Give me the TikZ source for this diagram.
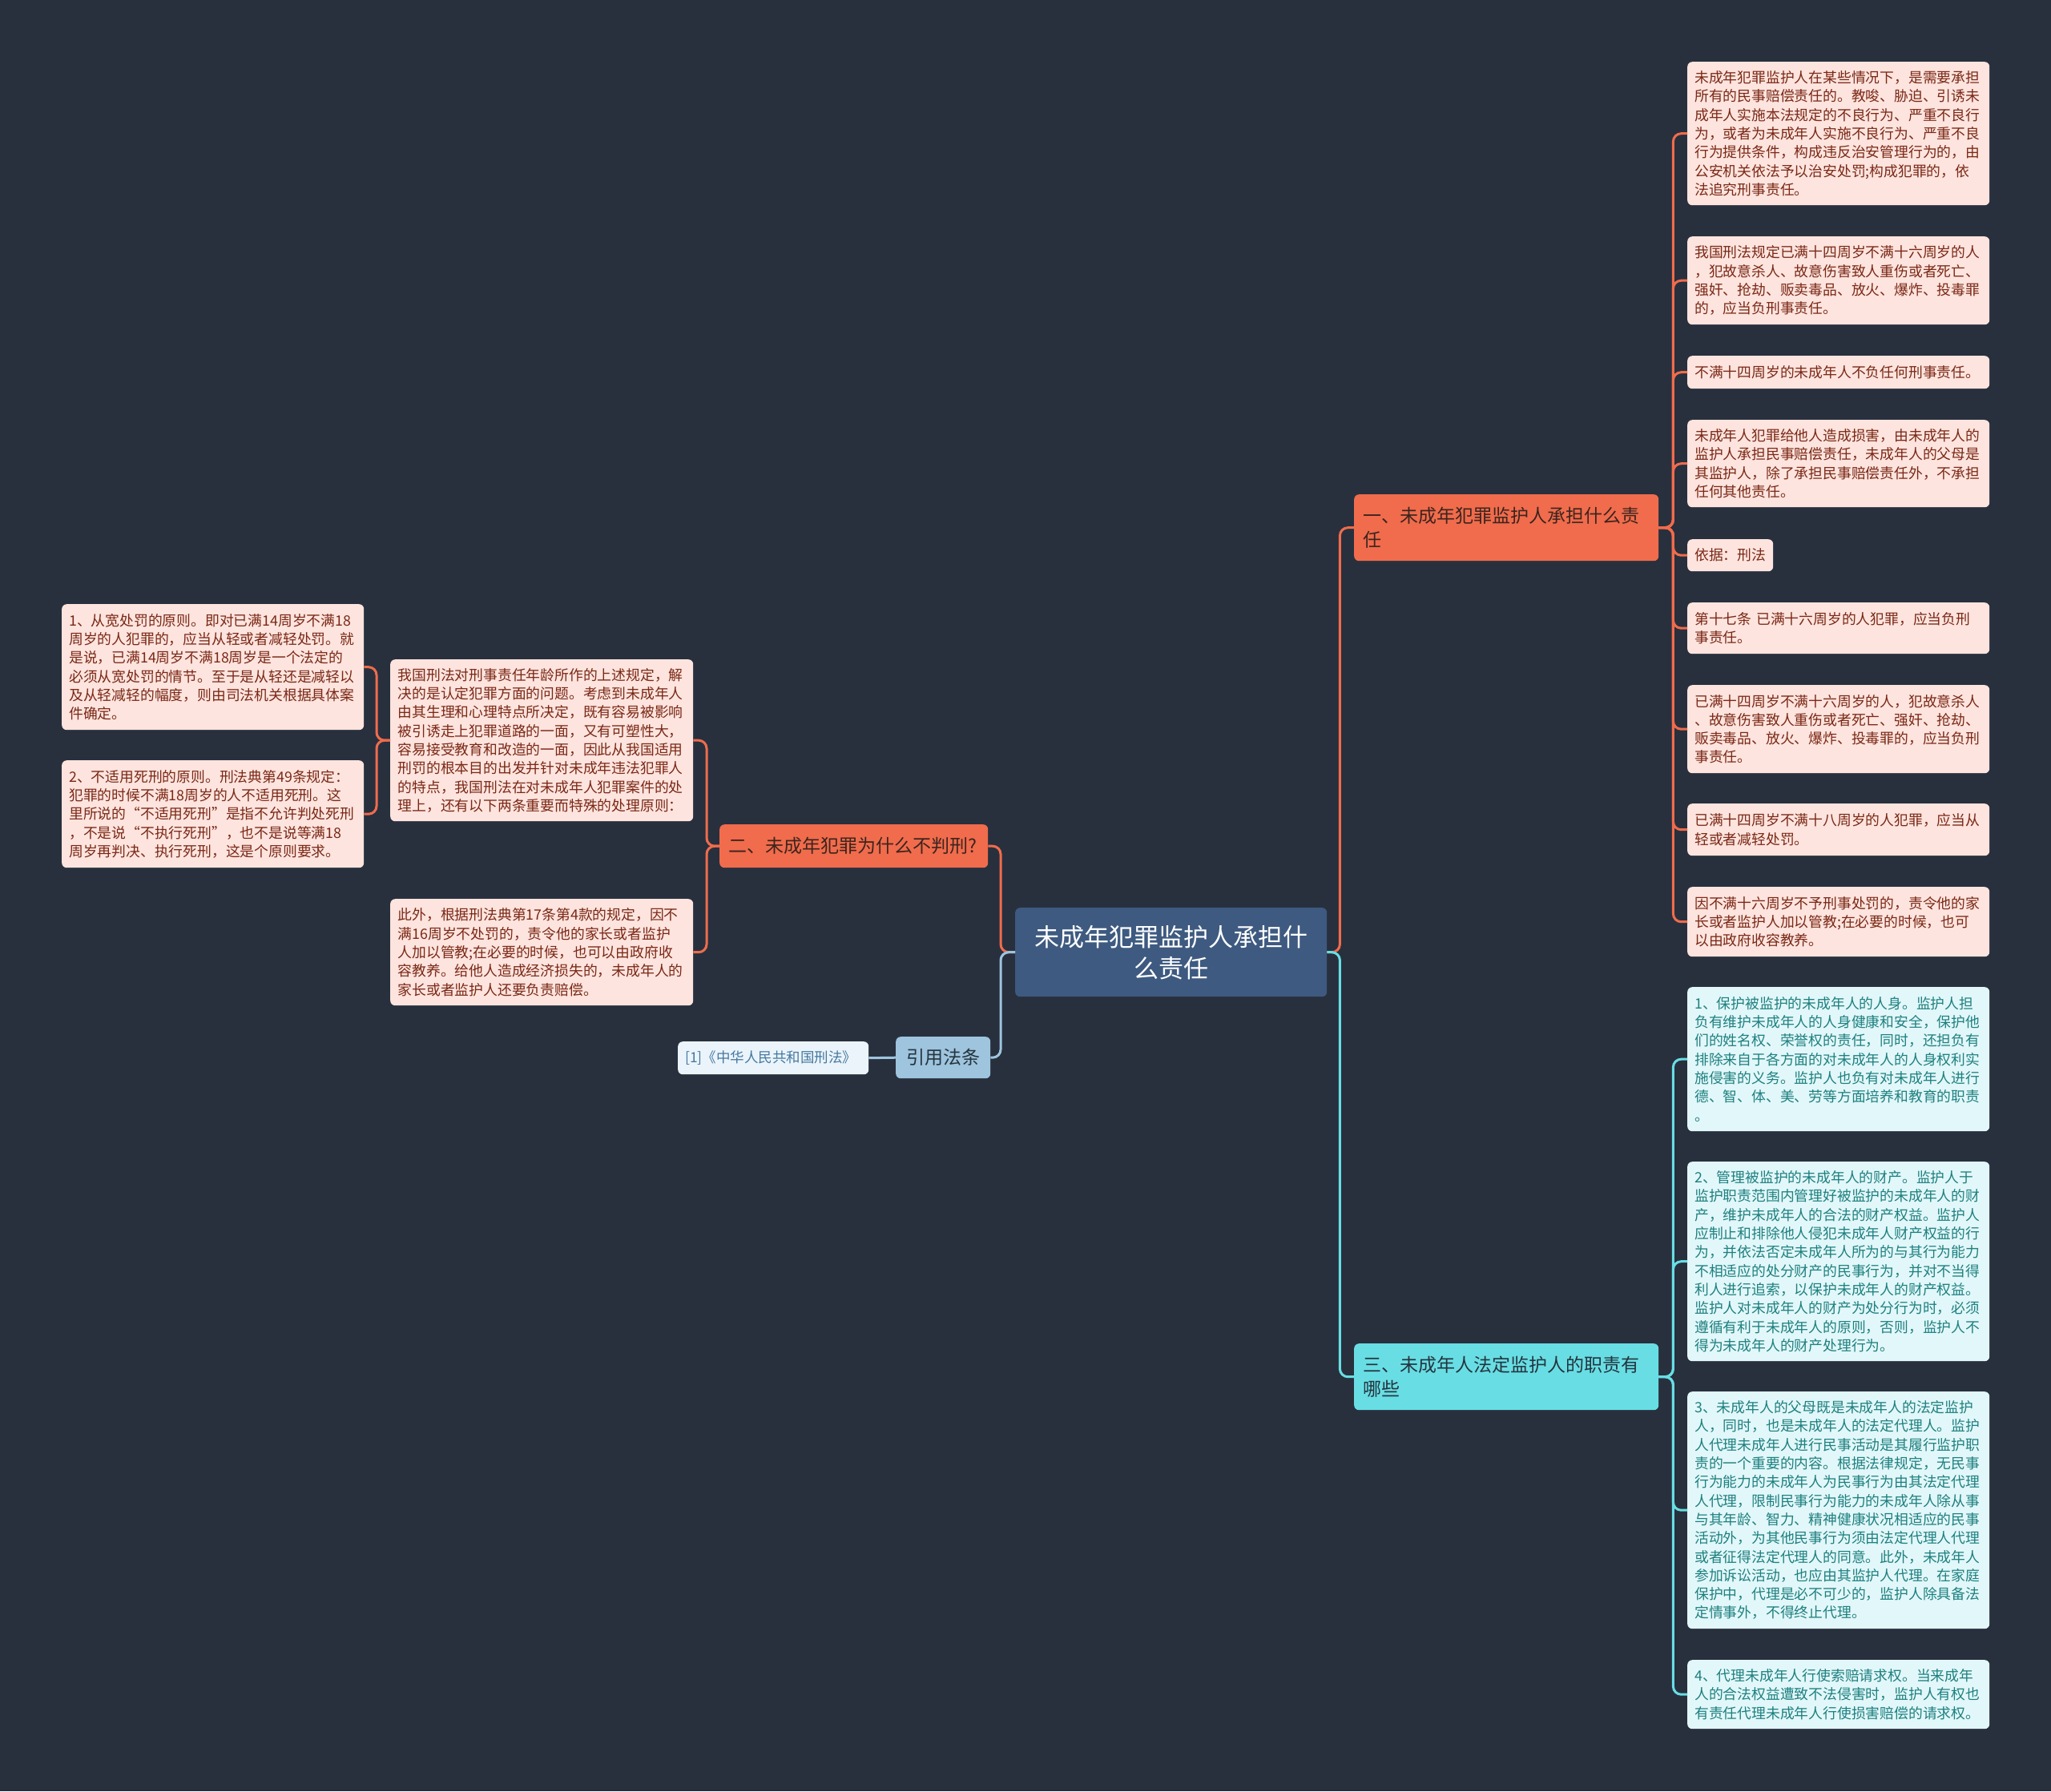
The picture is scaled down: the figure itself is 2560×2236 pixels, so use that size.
\documentclass[tikz,border=0pt]{standalone}
\usepackage{fontspec}
\setmainfont{Noto Sans CJK SC}
\definecolor{bgc}{RGB}{40,48,62}
\definecolor{orc}{RGB}{240,108,76}
\definecolor{orleaf}{RGB}{253,228,222}
\definecolor{ortext}{RGB}{122,40,22}
\definecolor{cyc}{RGB}{104,222,228}
\definecolor{cyleaf}{RGB}{226,247,249}
\definecolor{cytext}{RGB}{30,128,128}
\definecolor{cenc}{RGB}{62,90,128}
\definecolor{refc}{RGB}{158,196,222}
\definecolor{reftext}{RGB}{70,120,160}
\definecolor{refbg}{RGB}{234,244,250}
\definecolor{darktext}{RGB}{60,36,30}
\definecolor{cydark}{RGB}{36,52,62}
\tikzset{
  box/.style={rounded corners=6pt, anchor=north west, inner xsep=9pt, inner ysep=0pt, align=left},
  leafO/.style={box, fill=orleaf, text=ortext, text width=359pt, font=\fontsize{17.8}{23.3}\selectfont},
  leafC/.style={box, fill=cyleaf, text=cytext, text width=359pt, font=\fontsize{17.8}{23.3}\selectfont},
  brO/.style={box, fill=orc, text=darktext, inner xsep=11pt, font=\fontsize{23}{30}\selectfont},
  brC/.style={box, fill=cyc, text=cydark, inner xsep=11pt, font=\fontsize{23}{30}\selectfont},
  oline/.style={draw=orc, line width=3pt, rounded corners=10pt},
  cline/.style={draw=cyc, line width=3pt, rounded corners=10pt},
  bline/.style={draw=refc, line width=3pt, rounded corners=10pt},
  sz/.style 2 args={minimum width=#1pt, minimum height=#2pt},
}
\begin{document}
\begin{tikzpicture}[x=1pt,y=-1pt]
\useasboundingbox (0,0) rectangle (2560,2236);
\fill[bgc] (0,0) rectangle (2560,2236);

% center
\node[box, fill=cenc, text=white, align=center, minimum width=389pt, text width=371pt, minimum height=111pt, font=\fontsize{31}{39}\selectfont] (c) at (1267,1133) {未成年犯罪监护人承担什\\么责任};

% branches
\node[brO, minimum width=380pt, text width=358pt, minimum height=83pt] (b1) at (1690,617) {一、未成年犯罪监护人承担什么责\\任};
\node[brC, minimum width=380pt, text width=358pt, minimum height=83pt] (b3) at (1690,1677) {三、未成年人法定监护人的职责有\\哪些};
\node[brO, minimum width=335pt, text width=313pt, minimum height=54pt] (b2) at (898,1029) {二、未成年犯罪为什么不判刑?};
\node[box, fill=refc, text=cydark, align=center, minimum width=115pt, text width=100pt, minimum height=52pt, font=\fontsize{23}{30}\selectfont] (b4) at (1118,1294) {引用法条};
\node[box, fill=refbg, text=reftext, minimum width=238pt, text width=220pt, minimum height=41pt, font=\fontsize{17.5}{23}\selectfont] (r1) at (846,1300) {[1]《中华人民共和国刑法》};

% right leaves of branch 1
\node[leafO, sz={377}{179}] (l1) at (2106,77) {未成年犯罪监护人在某些情况下，是需要承担\\所有的民事赔偿责任的。教唆、胁迫、引诱未\\成年人实施本法规定的不良行为、严重不良行\\为，或者为未成年人实施不良行为、严重不良\\行为提供条件，构成违反治安管理行为的，由\\公安机关依法予以治安处罚;构成犯罪的，依\\法追究刑事责任。};
\node[leafO, sz={377}{110}] (l2) at (2106,295) {我国刑法规定已满十四周岁不满十六周岁的人\\，犯故意杀人、故意伤害致人重伤或者死亡、\\强奸、抢劫、贩卖毒品、放火、爆炸、投毒罪\\的，应当负刑事责任。};
\node[leafO, sz={377}{41}] (l3) at (2106,444) {不满十四周岁的未成年人不负任何刑事责任。};
\node[leafO, sz={377}{109}] (l4) at (2106,524) {未成年人犯罪给他人造成损害，由未成年人的\\监护人承担民事赔偿责任，未成年人的父母是\\其监护人，除了承担民事赔偿责任外，不承担\\任何其他责任。};
\node[leafO, sz={107}{40}, text width=89pt] (l5) at (2106,673) {依据：刑法};
\node[leafO, sz={377}{64}] (l6) at (2106,752) {第十七条 已满十六周岁的人犯罪，应当负刑\\事责任。};
\node[leafO, sz={377}{110}] (l7) at (2106,855) {已满十四周岁不满十六周岁的人，犯故意杀人\\、故意伤害致人重伤或者死亡、强奸、抢劫、\\贩卖毒品、放火、爆炸、投毒罪的，应当负刑\\事责任。};
\node[leafO, sz={377}{65}] (l8) at (2106,1003) {已满十四周岁不满十八周岁的人犯罪，应当从\\轻或者减轻处罚。};
\node[leafO, sz={377}{87}] (l9) at (2106,1107) {因不满十六周岁不予刑事处罚的，责令他的家\\长或者监护人加以管教;在必要的时候，也可\\以由政府收容教养。};

% right leaves of branch 3
\node[leafC, sz={377}{180}] (k1) at (2106,1232) {1、保护被监护的未成年人的人身。监护人担\\负有维护未成年人的人身健康和安全，保护他\\们的姓名权、荣誉权的责任，同时，还担负有\\排除来自于各方面的对未成年人的人身权利实\\施侵害的义务。监护人也负有对未成年人进行\\德、智、体、美、劳等方面培养和教育的职责\\。};
\node[leafC, sz={377}{249}] (k2) at (2106,1450) {2、管理被监护的未成年人的财产。监护人于\\监护职责范围内管理好被监护的未成年人的财\\产，维护未成年人的合法的财产权益。监护人\\应制止和排除他人侵犯未成年人财产权益的行\\为，并依法否定未成年人所为的与其行为能力\\不相适应的处分财产的民事行为，并对不当得\\利人进行追索，以保护未成年人的财产权益。\\监护人对未成年人的财产为处分行为时，必须\\遵循有利于未成年人的原则，否则，监护人不\\得为未成年人的财产处理行为。};
\node[leafC, sz={377}{296}] (k3) at (2106,1737) {3、未成年人的父母既是未成年人的法定监护\\人，同时，也是未成年人的法定代理人。监护\\人代理未成年人进行民事活动是其履行监护职\\责的一个重要的内容。根据法律规定，无民事\\行为能力的未成年人为民事行为由其法定代理\\人代理，限制民事行为能力的未成年人除从事\\与其年龄、智力、精神健康状况相适应的民事\\活动外，为其他民事行为须由法定代理人代理\\或者征得法定代理人的同意。此外，未成年人\\参加诉讼活动，也应由其监护人代理。在家庭\\保护中，代理是必不可少的，监护人除具备法\\定情事外，不得终止代理。};
\node[leafC, sz={377}{86}] (k4) at (2106,2072) {4、代理未成年人行使索赔请求权。当来成年\\人的合法权益遭致不法侵害时，监护人有权也\\有责任代理未成年人行使损害赔偿的请求权。};

% left side
\node[leafO, sz={378}{202}] (m1) at (487,823) {我国刑法对刑事责任年龄所作的上述规定，解\\决的是认定犯罪方面的问题。考虑到未成年人\\由其生理和心理特点所决定，既有容易被影响\\被引诱走上犯罪道路的一面，又有可塑性大，\\容易接受教育和改造的一面，因此从我国适用\\刑罚的根本目的出发并针对未成年违法犯罪人\\的特点，我国刑法在对未成年人犯罪案件的处\\理上，还有以下两条重要而特殊的处理原则：};
\node[leafO, sz={378}{133}] (m2) at (487,1122) {此外，根据刑法典第17条第4款的规定，因不\\满16周岁不处罚的，责令他的家长或者监护\\人加以管教;在必要的时候，也可以由政府收\\容教养。给他人造成经济损失的，未成年人的\\家长或者监护人还要负责赔偿。};
\node[leafO, sz={377}{157}] (p1) at (77,754) {1、从宽处罚的原则。即对已满14周岁不满18\\周岁的人犯罪的，应当从轻或者减轻处罚。就\\是说，已满14周岁不满18周岁是一个法定的\\必须从宽处罚的情节。至于是从轻还是减轻以\\及从轻减轻的幅度，则由司法机关根据具体案\\件确定。};
\node[leafO, sz={377}{134}] (p2) at (77,949) {2、不适用死刑的原则。刑法典第49条规定：\\犯罪的时候不满18周岁的人不适用死刑。这\\里所说的“不适用死刑”是指不允许判处死刑\\，不是说“不执行死刑”，也不是说等满18\\周岁再判决、执行死刑，这是个原则要求。};

% connectors
\draw[oline] (c.east) -- ++(16,0) |- (b1.west);
\draw[cline] (c.east) -- ++(16,0) |- (b3.west);
\draw[oline] (c.west) -- ++(-18,0) |- (b2.east);
\draw[bline] (c.west) -- ++(-18,0) |- (b4.east);
\draw[bline] (b4.west) -- (r1.east);
\foreach \n in {l1,l2,l3,l4,l5,l6,l7,l8,l9}
  \draw[oline] (b1.east) -- ++(18,0) |- (\n.west);
\foreach \n in {k1,k2,k3,k4}
  \draw[cline] (b3.east) -- ++(18,0) |- (\n.west);
\draw[oline] (b2.west) -- ++(-16,0) |- (m1.east);
\draw[oline] (b2.west) -- ++(-16,0) |- (m2.east);
\draw[oline] (m1.west) -- ++(-17,0) |- (p1.east);
\draw[oline] (m1.west) -- ++(-17,0) |- (p2.east);
\end{tikzpicture}
\end{document}
